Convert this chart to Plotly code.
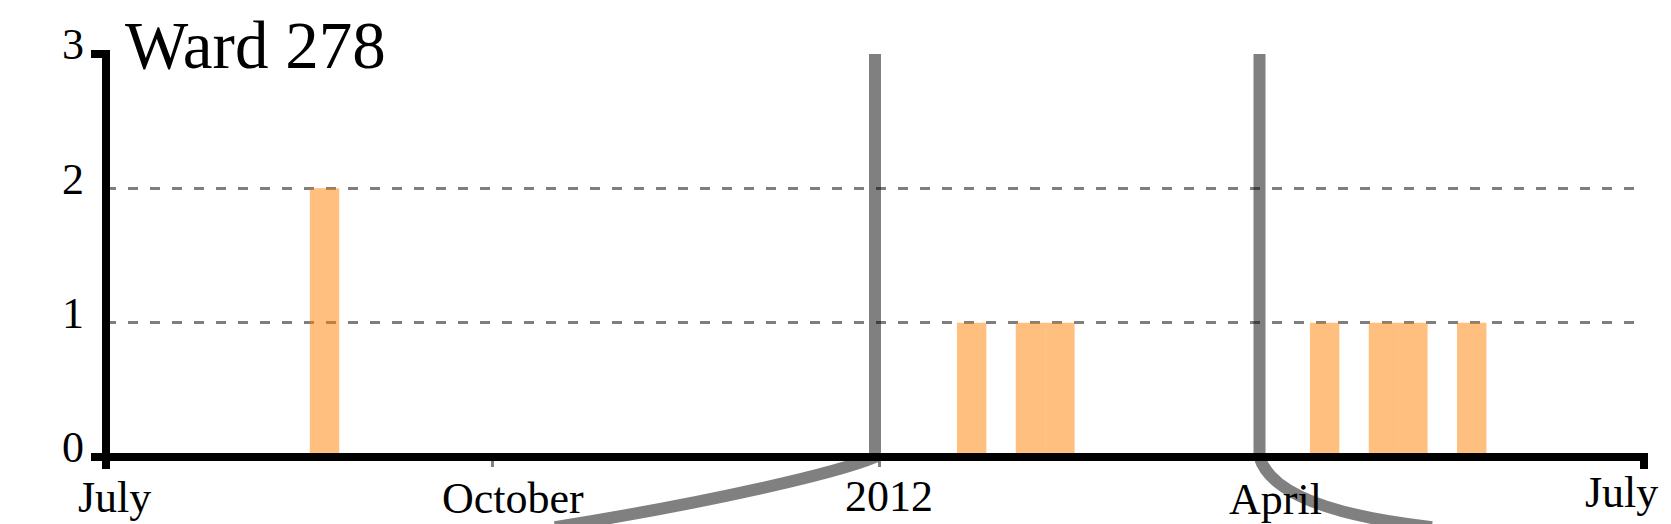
import plotly.graph_objects as go

# weekly case counts (bars centred on the Monday of each week)
week_centres = ["2011-08-22", "2012-01-23", "2012-02-06", "2012-02-13",
                "2012-04-16", "2012-04-30", "2012-05-07", "2012-05-21"]
case_counts = [2, 1, 1, 1, 1, 1, 1, 1]

x_range = ["2011-07-01", "2012-07-01"]
tick_dates = ["2011-07-01", "2011-10-01", "2012-01-01", "2012-04-01", "2012-07-01"]
tick_labels = ["July", "October", "2012", "April", "July"]
y_ticks = [0, 1, 2, 3]

# window highlighted by the grey brackets
zoom_start = "2011-12-31"
zoom_end = "2012-03-31_12:00"

WEEK_MS = 7 * 24 * 3600 * 1000
FONT = "Liberation Serif"
PAGE_PAD = 8  # the html body margin pushes the div right/down by this

# little hand placed nudges for the x labels (px)
label_dx = [8, 20, 10, 14, -23]
label_dy = [-14, -15, -13, -16, -9]

fig = go.Figure()
fig.add_trace(go.Bar(
    x=week_centres, y=case_counts, width=WEEK_MS,
    marker=dict(color="rgba(255,128,0,0.5)", line=dict(width=0)),
    hoverinfo="x+y"))

black = dict(color="black", width=8)
grey = dict(color="gray", width=12)
left_bracket = (f"M {zoom_start},1 L {zoom_start},0 "
                "C 2011-12-22_16:00,-0.037 2011-11-22_22:00,-0.111 2011-10-15_20:00,-0.174")
right_bracket = (f"M {zoom_end},1 L {zoom_end},0 "
                 "Q 2012-04-04_05:00,-0.13 2012-05-11_13:00,-0.174")
shapes = [
    # domain lines with the short end stubs
    dict(type="line", xref="paper", yref="paper", x0=0, x1=1, y0=0, y1=0, line=black, layer="above"),
    dict(type="line", xref="paper", yref="paper", x0=0, x1=0, y0=0, y1=1, line=black, layer="above"),
    dict(type="line", xref="paper", xsizemode="pixel", xanchor=0, x0=-15, x1=4,
         yref="paper", y0=1, y1=1, line=black, layer="above"),
    dict(type="line", xref="paper", xsizemode="pixel", xanchor=0, x0=-15, x1=0,
         yref="paper", y0=0, y1=0, line=black, layer="above"),
    dict(type="line", xref="paper", x0=0, x1=0, yref="paper", ysizemode="pixel",
         yanchor=0, y0=0, y1=-12, line=black, layer="above"),
    dict(type="line", xref="paper", x0=1, x1=1, yref="paper", ysizemode="pixel",
         yanchor=0, y0=4, y1=-12, line=black, layer="above"),
    # grey brackets running off the bottom
    dict(type="path", xref="x", yref="paper", layer="below", line=grey,
         fillcolor="rgba(0,0,0,0)", path=left_bracket),
    dict(type="path", xref="x", yref="paper", layer="below", line=grey,
         fillcolor="rgba(0,0,0,0)", path=right_bracket),
]

annotations = [dict(text="Ward 278", xref="paper", yref="paper", x=0, y=1,
                    xanchor="left", yanchor="top", xshift=17, yshift=48,
                    showarrow=False, font=dict(family=FONT, size=67, color="black"))]
for d, t, dx, dy in zip(tick_dates, tick_labels, label_dx, label_dy):
    annotations.append(dict(text=t, xref="x", yref="paper", x=d, y=0,
                            xanchor="center", yanchor="top", xshift=dx, yshift=dy,
                            showarrow=False, font=dict(family=FONT, size=44, color="black")))

fig.update_layout(
    width=1671 - PAGE_PAD, height=524 - PAGE_PAD,
    margin=dict(l=106 - PAGE_PAD, r=27, t=50 - PAGE_PAD, b=67),
    plot_bgcolor="white", paper_bgcolor="white",
    showlegend=False,
    font=dict(family=FONT, size=44, color="black"),
    shapes=shapes, annotations=annotations,
    xaxis=dict(type="date", range=x_range, showgrid=False, showline=False,
               zeroline=False, ticks="outside", tickvals=tick_dates[1:4],
               showticklabels=False, tickcolor="gray", tickwidth=3, ticklen=9,
               layer="above traces"),
    yaxis=dict(range=[0, 3], tickvals=y_ticks, showgrid=False, showline=False,
               zeroline=False, ticks="", ticklabelstandoff=21, ticklabelshift=-10,
               tickfont=dict(family=FONT, size=44, color="black"),
               layer="above traces",
               minor=dict(tickvals=y_ticks[1:3], showgrid=True, gridcolor="rgba(0,0,0,0.5)",
                          gridwidth=3, griddash="10px,12px", ticks="")),
)

fig.write_html("out.html")
